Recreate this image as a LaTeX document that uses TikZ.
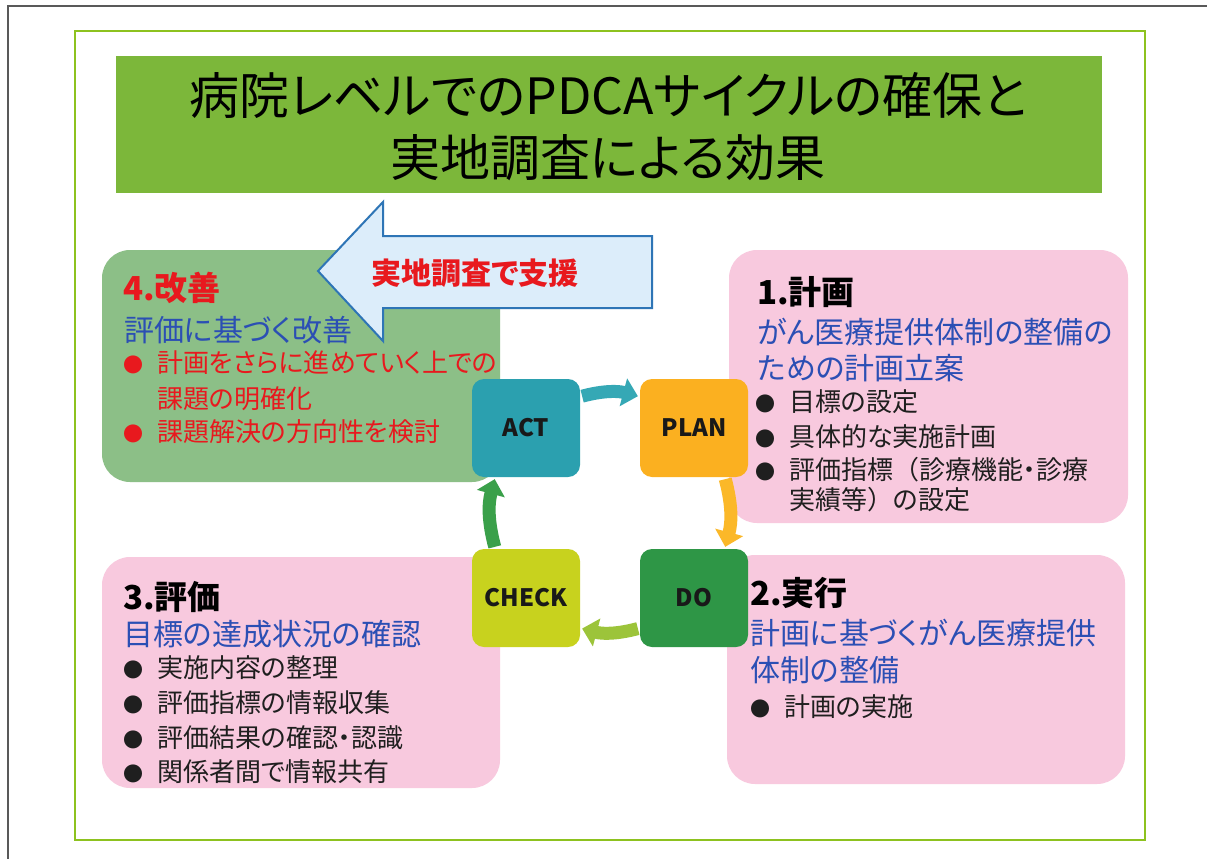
\documentclass[tikz,border=0pt]{standalone}
\usepackage{fontspec}
\usetikzlibrary{arrows.meta}
\newfontfamily\jp[RawFeature=+palt]{Noto Sans CJK JP}
\newfontfamily\jpf{Noto Sans CJK JP}
\definecolor{frameg}{HTML}{8DC21F}
\definecolor{titleg}{HTML}{7CB73A}
\definecolor{boxg}{HTML}{8CBF87}
\definecolor{boxp}{HTML}{F8C9DE}
\definecolor{txtb}{HTML}{2B4FB4}
\definecolor{txtr}{HTML}{E8191E}
\definecolor{actc}{HTML}{2BA0AF}
\definecolor{planc}{HTML}{FBB020}
\definecolor{checkc}{HTML}{C8D21E}
\definecolor{doc}{HTML}{2E9646}
\definecolor{a1}{HTML}{35A8B5}
\definecolor{a2}{HTML}{FBB829}
\definecolor{a3}{HTML}{9CC43A}
\definecolor{a4}{HTML}{3AA04A}
\definecolor{arrfill}{HTML}{DCEDFA}
\definecolor{arrline}{HTML}{2E75B6}
\newcommand\bul[1]{\makebox[35pt][l]{\kern1pt{\fontsize{20}{20}\selectfont ●}}#1}
\begin{document}
\begin{tikzpicture}[x=1pt,y=-1pt,
  panel/.style={rounded corners=28pt, inner sep=0pt, draw=none},
  sq/.style={rounded corners=12pt, minimum width=108pt, minimum height=98pt, inner sep=0pt,
    font=\jp\bfseries\fontsize{24}{24}\selectfont, text=black!90},
  tl/.style={anchor=west, inner sep=0pt},
  head/.style={tl, font=\jp\bfseries\fontsize{33}{33}\selectfont},
  sub/.style={tl, font=\jp\fontsize{30}{30}\selectfont, text=txtb},
  item/.style={tl, font=\jp\fontsize{26}{26}\selectfont, text=black!88},
  cyc/.style={line width=13pt, -{Triangle[width=28pt,length=15pt]}, shorten <=2pt, shorten >=2pt}
]
\useasboundingbox (0,0) rectangle (1207,859);
\fill[white] (0,0) rectangle (1207,859);
% outer frames
\draw[black!65, line width=1.5pt] (8,859) -- (8,6) -- (1207,6);
\draw[frameg, line width=2.2pt] (75,31) rectangle (1145,840);
% title
\node[fill=titleg, minimum width=986pt, minimum height=137pt, inner sep=0pt] (title) at (609,124.5) {};
\node[font=\jp\fontsize{50}{50}\selectfont, inner sep=0pt] (t1) at (608,95) {病院レベルでのPDCAサイクルの確保と};
\node[font=\jp\fontsize{50}{50}\selectfont, inner sep=0pt] (t2) at (608,158) {実地調査による効果};
% panels
\node[panel, fill=boxg, minimum width=398pt, minimum height=232pt] (b4) at (301,366) {};
\node[panel, fill=boxp, minimum width=399pt, minimum height=273pt] (b1) at (928.5,386.5) {};
\node[panel, fill=boxp, minimum width=398pt, minimum height=229pt] (b2) at (926,669.5) {};
\node[panel, fill=boxp, minimum width=398pt, minimum height=231pt] (b3) at (301,672.5) {};
% cycle squares
\node[sq, fill=actc] (act) at (526,428) {ACT};
\node[sq, fill=planc] (plan) at (694,428) {PLAN};
\node[sq, fill=checkc] (check) at (526,598) {CHECK};
\node[sq, fill=doc] (do) at (694,598) {DO};
% cycle arrows
\draw[cyc, a1] (act.30) to[bend left=15] (plan.150);
\draw[cyc, a2] (plan.-58) to[bend left=15] (do.58);
\draw[cyc, a3] (do.209) to[bend left=15] (check.-29);
\draw[cyc, a4] (check.122) to[bend left=15] (act.-122);
% big support arrow
\draw[fill=arrfill, draw=arrline, line width=2pt, line join=miter]
  (318,271) -- (383,202) -- (383,236) -- (652,236) -- (652,308) -- (383,308) -- (383,341) -- cycle;
\node[font=\jp\bfseries\fontsize{30}{30}\selectfont, text=txtr, inner sep=0pt] (sup) at (475,273) {実地調査で支援};
% box 4
\node[head, text=txtr] (h4) at (123,288) {4.改善};
\node[sub] (s4) at (124,330) {評価に基づく改善};
\node[item, text=txtr] (i41) at (122,363) {\bul{計画をさらに進めていく上での}};
\node[item, text=txtr] (i42) at (157,399) {課題の明確化};
\node[item, text=txtr] (i43) at (122,432) {\bul{課題解決の方向性を検討}};
% box 1
\node[head] (h1) at (757,292) {1.計画};
\node[sub] (s11) at (757,332) {がん医療提供体制の整備の};
\node[sub] (s12) at (757,368) {ための計画立案};
\node[item] (i11) at (754,402) {\bul{目標の設定}};
\node[item] (i12) at (754,437) {\bul{具体的な実施計画}};
\node[item] (i13) at (754,470) {\bul{評価指標{\jpf （}診療機能・診療}};
\node[item] (i14) at (789,500) {実績等{\jpf ）}の設定};
% box 2
\node[head] (h2) at (750,593) {2.実行};
\node[sub] (s21) at (750,633) {計画に基づくがん医療提供};
\node[sub] (s22) at (750,670) {体制の整備};
\node[item] (i21) at (749,707) {\bul{計画の実施}};
% box 3
\node[head] (h3) at (123,597) {3.評価};
\node[sub] (s31) at (123,634) {目標の達成状況の確認};
\node[item] (i31) at (122,668) {\bul{実施内容の整理}};
\node[item] (i32) at (122,703) {\bul{評価指標の情報収集}};
\node[item] (i33) at (122,738) {\bul{評価結果の確認・認識}};
\node[item] (i34) at (122,772) {\bul{関係者間で情報共有}};
\end{tikzpicture}
\end{document}
